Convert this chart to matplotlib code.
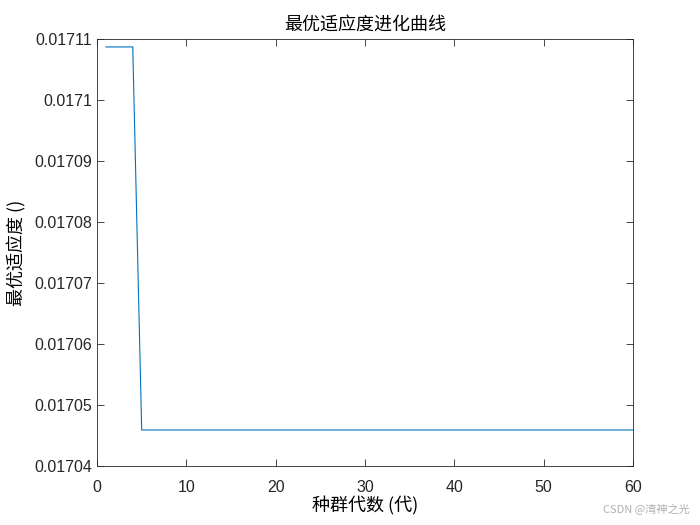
import matplotlib
matplotlib.use('Agg')
import matplotlib.pyplot as plt

plt.rcParams['font.family'] = ['Liberation Sans', 'DejaVu Sans']

generations = list(range(1, 61))
best_fitness = [0.0171087] * 4 + [0.0170459] * 56

cjk = ['Noto Sans CJK SC', 'DejaVu Sans']

fig = plt.figure(figsize=(7, 5.25), dpi=100)
ax = fig.add_axes([0.1386, 0.1124, 0.7657, 0.8133])
ax.plot(generations, best_fitness, color='#0072BD', linewidth=0.8)

ax.set_xlim(0, 60)
ax.set_ylim(0.01704, 0.01711)
ax.set_xticks([0, 10, 20, 30, 40, 50, 60])
ax.set_yticks([0.01704, 0.01705, 0.01706, 0.01707, 0.01708, 0.01709, 0.0171, 0.01711])
ax.set_yticklabels(['0.01704', '0.01705', '0.01706', '0.01707', '0.01708',
                    '0.01709', '0.0171', '0.01711'])
ax.tick_params(direction='in', top=True, right=True, labelsize=11.5,
               colors='#262626', length=5, width=0.6)
ax.tick_params(axis='x', pad=10)
for s in ax.spines.values():
    s.set_linewidth(0.6)
    s.set_color('#262626')

ax.set_title('最优适应度进化曲线', family=cjk, fontsize=13, color='#000000', pad=7)
ax.set_xlabel('种群代数 (代)', family=cjk, fontsize=13, style='italic', labelpad=1)
ax.set_ylabel('最优适应度 ()', family=cjk, fontsize=13, style='italic', labelpad=6)

fig.text(0.985, 0.018, 'CSDN @湾神之光', family=cjk, fontsize=8, color='#b0b0b0',
         ha='right', va='bottom')

fig.savefig('out.png', dpi=100)
